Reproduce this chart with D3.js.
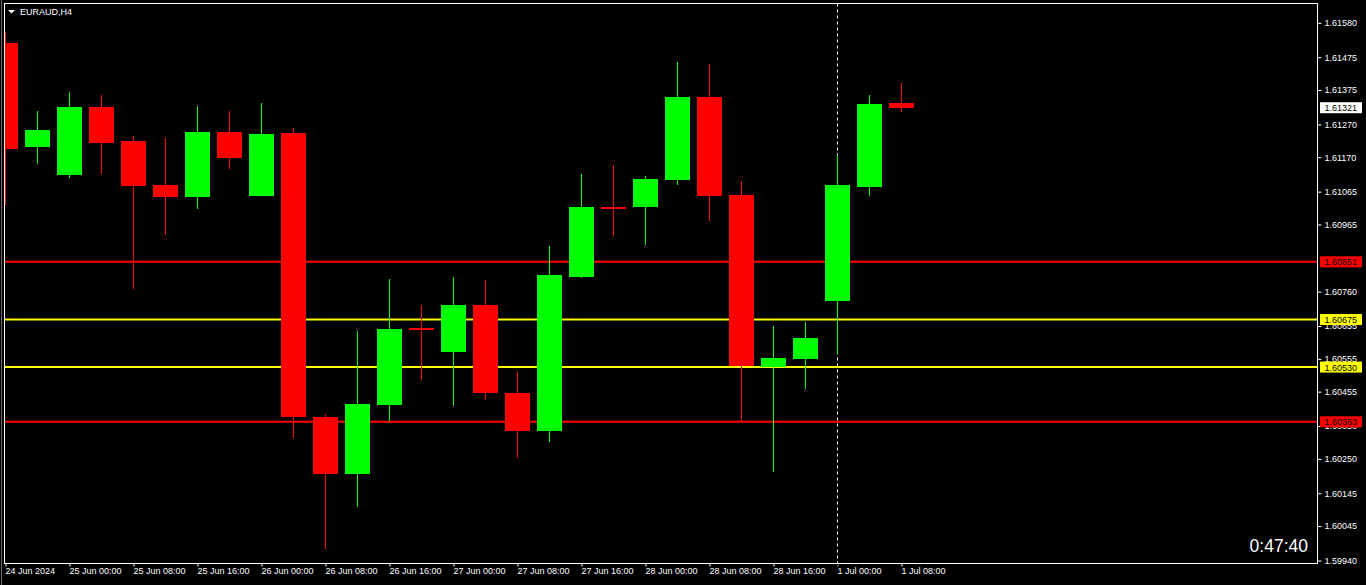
<!DOCTYPE html>
<html>
<head>
<meta charset="utf-8">
<script src="https://cdn.jsdelivr.net/npm/d3@7"></script>
<style>
  html, body { margin: 0; padding: 0; background: #000; }
  svg { display: block; }
  text { font-family: "Liberation Sans", Arial, sans-serif; }
</style>
</head>
<body>
<svg id="chart" width="1366" height="585"></svg>
<script>
// ---- data ----
const symbol = "EURAUD,H4";
const timeLabels = ["24 Jun 2024", "25 Jun 00:00", "25 Jun 08:00", "25 Jun 16:00", "26 Jun 00:00",
  "26 Jun 08:00", "26 Jun 16:00", "27 Jun 00:00", "27 Jun 08:00", "27 Jun 16:00",
  "28 Jun 00:00", "28 Jun 08:00", "28 Jun 16:00", "1 Jul 00:00", "1 Jul 08:00"];
const opens  = [1.61518, 1.61201, 1.61116, 1.61323, 1.61220, 1.61085, 1.61049, 1.61247, 1.61052, 1.61244,
                1.60378, 1.60204, 1.60414, 1.60649, 1.60576, 1.60719, 1.60451, 1.60335, 1.60805, 1.61017,
                1.61018, 1.61101, 1.61354, 1.61055, 1.60530, 1.60555, 1.60732, 1.61079, 1.61335];
const highs  = [1.61553, 1.61312, 1.61369, 1.61360, 1.61235, 1.61230, 1.61326, 1.61312, 1.61336, 1.61259,
                1.60387, 1.60640, 1.60799, 1.60719, 1.60805, 1.60796, 1.60515, 1.60899, 1.61119, 1.61146,
                1.61113, 1.61460, 1.61454, 1.61098, 1.60655, 1.60667, 1.61177, 1.61360, 1.61396];
const lows   = [1.61024, 1.61149, 1.61108, 1.61119, 1.60769, 1.60933, 1.61012, 1.61134, 1.61052, 1.60315,
                1.59975, 1.60103, 1.60366, 1.60491, 1.60411, 1.60430, 1.60253, 1.60301, 1.60802, 1.60930,
                1.60902, 1.61085, 1.60976, 1.60366, 1.60210, 1.60463, 1.60570, 1.61052, 1.61308];
const closes = [1.61195, 1.61253, 1.61323, 1.61213, 1.61083, 1.61049, 1.61247, 1.61169, 1.61241, 1.60378,
                1.60204, 1.60417, 1.60646, 1.60645, 1.60719, 1.60452, 1.60335, 1.60811, 1.61018, 1.61014,
                1.61104, 1.61354, 1.61052, 1.60533, 1.60558, 1.60619, 1.61085, 1.61332, 1.61321];
const priceTicks = [1.61580, 1.61475, 1.61375, 1.61270, 1.61170, 1.61065, 1.60965, 1.60760,
                    1.60655, 1.60555, 1.60455, 1.60350, 1.60250, 1.60145, 1.60045, 1.59940];
const levelPrices = [1.60851, 1.60675, 1.60530, 1.60363];
const levelColors = ["#ff0000", "#ffff00", "#ffff00", "#ff0000"];
const currentPrice = 1.61321;
const markerIndex = 26;   // 1 Jul 00:00 period separator
const timerText = "0:47:40";

// ---- layout ----
const svg = d3.select("#chart");
const fL = 4.5, fR = 1317.5, fT = 3.5, fB = 563.5;

const candles = opens.map((o, i) => ({ i, o, h: highs[i], l: lows[i], c: closes[i] }));

const x = d3.scaleLinear().domain([0, 28]).range([5, 901]);
const y = d3.scaleLinear().domain([1.59940, 1.61580]).range([560.5, 22.8]);

svg.append("rect").attr("width", 1366).attr("height", 585).attr("fill", "#000");
svg.append("line").attr("x1", 1.5).attr("x2", 1.5).attr("y1", 0).attr("y2", 585)
  .attr("stroke", "#6a6a6a").attr("stroke-width", 1);

svg.append("clipPath").attr("id", "plot").append("rect")
  .attr("x", fL + 0.5).attr("y", fT + 0.5).attr("width", fR - fL - 1).attr("height", fB - fT - 1);

const plot = svg.append("g").attr("clip-path", "url(#plot)");

// period separator
plot.append("line")
  .attr("x1", x(markerIndex) + 0.5).attr("x2", x(markerIndex) + 0.5)
  .attr("y1", fT).attr("y2", fB)
  .attr("stroke", "#ffffff").attr("stroke-width", 1).attr("stroke-dasharray", "3,3");

// horizontal levels
plot.selectAll("line.level").data(levelPrices).enter().append("line")
  .attr("class", "level")
  .attr("x1", fL).attr("x2", fR)
  .attr("y1", d => y(d)).attr("y2", d => y(d))
  .attr("stroke", (d, i) => levelColors[i]).attr("stroke-width", 2);

// candles
const col = d => d.c >= d.o ? "#00ff00" : "#ff0000";
const cg = plot.selectAll("g.candle").data(candles).enter().append("g").attr("class", "candle");
cg.append("rect")
  .attr("x", d => x(d.i)).attr("width", 1)
  .attr("y", d => Math.round(y(d.h))).attr("height", d => Math.max(1, Math.round(y(d.l)) - Math.round(y(d.h))))
  .attr("fill", col);
cg.append("rect")
  .attr("x", d => x(d.i) - 12).attr("width", 25)
  .attr("y", d => Math.round(y(Math.max(d.o, d.c))))
  .attr("height", d => Math.max(2, Math.round(y(Math.min(d.o, d.c))) - Math.round(y(Math.max(d.o, d.c)))))
  .attr("fill", col);

// frame
svg.append("rect").attr("x", fL).attr("y", fT).attr("width", fR - fL).attr("height", fB - fT)
  .attr("fill", "none").attr("stroke", "#ffffff").attr("stroke-width", 1);

// right price axis
const yAxis = d3.axisRight(y).tickValues(priceTicks).tickFormat(d3.format(".5f")).tickSize(4).tickPadding(3);
const ya = svg.append("g").attr("transform", `translate(${fR},0)`).call(yAxis);
ya.select(".domain").remove();
ya.selectAll(".tick line").attr("stroke", "#ffffff");
ya.selectAll(".tick text").attr("fill", "#ffffff").attr("font-size", 9)
  .attr("font-family", "'Liberation Sans', Arial, sans-serif");

// price tags
const tags = levelPrices.map((p, i) => ({ p, bg: levelColors[i] })).concat([{ p: currentPrice, bg: "#ffffff" }]);
const tg = svg.selectAll("g.tag").data(tags).enter().append("g").attr("class", "tag");
tg.append("rect").attr("x", 1320).attr("width", 42)
  .attr("y", d => y(d.p) - 5.5).attr("height", 11).attr("fill", d => d.bg);
tg.append("text").attr("x", 1324.5).attr("y", d => y(d.p) + 3.5)
  .attr("font-size", 9).attr("fill", "#000").text(d => d3.format(".5f")(d.p));

// bottom time axis
const tickIdx = timeLabels.map((t, j) => j * 2);
const xAxis = d3.axisBottom(x).tickValues(tickIdx).tickFormat((d, j) => timeLabels[j]).tickSize(3).tickPadding(3);
const xa = svg.append("g").attr("transform", `translate(0.5,${fB})`).call(xAxis);
xa.select(".domain").remove();
xa.selectAll(".tick line").attr("stroke", "#ffffff")
  .attr("stroke-dasharray", d => d === markerIndex ? "1,1" : null);
xa.selectAll(".tick text").attr("fill", "#ffffff").attr("font-size", 9)
  .attr("text-anchor", "start").attr("dx", -0.5).attr("dy", "0.55em")
  .attr("font-family", "'Liberation Sans', Arial, sans-serif");

// title
svg.append("path").attr("d", "M8,10 L15,10 L11.5,13.5 Z").attr("fill", "#ffffff");
svg.append("text").attr("x", 20).attr("y", 15).attr("font-size", 9).attr("fill", "#ffffff").text(symbol);

// timer
svg.append("text").attr("x", 1308).attr("y", 552).attr("text-anchor", "end")
  .attr("font-size", 17.5).attr("fill", "#ffffff").text(timerText);
</script>
</body>
</html>
